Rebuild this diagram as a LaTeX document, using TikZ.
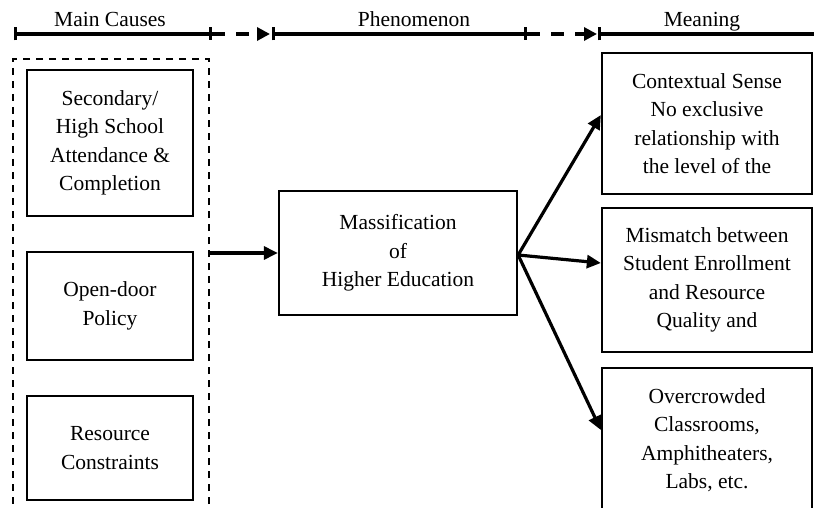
\documentclass[tikz,border=0pt]{standalone}
\usepackage{fontspec}
\setmainfont{Liberation Serif}
\usetikzlibrary{arrows.meta}
\begin{document}
\begin{tikzpicture}[x=1pt, y=-1pt,
        every node/.style={font=\fontsize{21.5}{28.5}\selectfont},
        box/.style={draw, line width=2.3pt, align=center, inner sep=0pt},
        left box/.style={box, minimum width=166pt},
        right box/.style={box, minimum width=210pt},
        group/.style={draw, line width=2.4pt, dash pattern=on 7pt off 6pt, inner sep=0pt},
        link/.style={line width=3.2pt, -{Triangle[length=14pt, width=13pt]}},
        span/.style={line width=3.2pt, {Bar[width=13pt]}-{Bar[width=13pt]}},
        gap/.style={line width=3.2pt, dash pattern=on 13pt off 11pt, -{Triangle[length=13pt, width=13pt]}}]
    \useasboundingbox (0,0) rectangle (814,508);
    \clip (0,0) rectangle (814,508);

    % header
    \coordinate (h1) at (14,34);
    \coordinate (h2) at (212,34);
    \coordinate (h3) at (272,34);
    \coordinate (h4) at (527,34);
    \coordinate (h5) at (598,34);
    \coordinate (h6) at (830,34);
    \draw[span] (h1) -- (h2);
    \draw[gap] (h2) -- ([xshift=-2pt]h3);
    \draw[span] (h3) -- (h4);
    \draw[gap] (h4) -- ([xshift=-1pt]h5);
    \draw[line width=3.2pt, {Bar[width=13pt]}-] (h5) -- (h6);
    \node[anchor=base] (causes) at (110,27) {Main Causes};
    \node[anchor=base] (phenom) at (414,27) {Phenomenon};
    \node[anchor=base] (meaning) at (702,27) {Meaning};

    % main causes
    \node[group, minimum width=196pt, minimum height=470pt] (grp) at (111,294) {};
    \node[left box, minimum height=146pt] (school) at (110,143) {Secondary/\\High School\\Attendance \&\\Completion};
    \node[left box, minimum height=108pt] (policy) at (110,306) {Open-door\\Policy};
    \node[left box, minimum height=104pt] (resource) at (110,448) {Resource\\Constraints};

    % phenomenon
    \node[box, minimum width=238pt, minimum height=124pt] (mass) at (398,253) {Massification\\of\\Higher Education};

    % meaning
    \node[right box, minimum height=141pt] (sense) at (707,123.5) {Contextual Sense\\No exclusive\\relationship with\\the level of the};
    \node[right box, minimum height=144pt] (mismatch) at (707,280) {Mismatch between\\Student Enrollment\\and Resource\\Quality and};
    \node[right box, minimum height=144pt] (crowd) at (707,440) {Overcrowded\\Classrooms,\\Amphitheaters,\\Labs, etc.};

    % connectors
    \draw[link] (grp.east |- mass) -- (mass.west);
    \draw[link] ([yshift=-2pt]mass.east) -- ([yshift=8.5pt]sense.west);
    \draw[link] ([yshift=-2pt]mass.east) -- ([yshift=17pt]mismatch.west);
    \draw[link] ([yshift=-2pt]mass.east) -- ([yshift=10pt]crowd.west);
\end{tikzpicture}
\end{document}
